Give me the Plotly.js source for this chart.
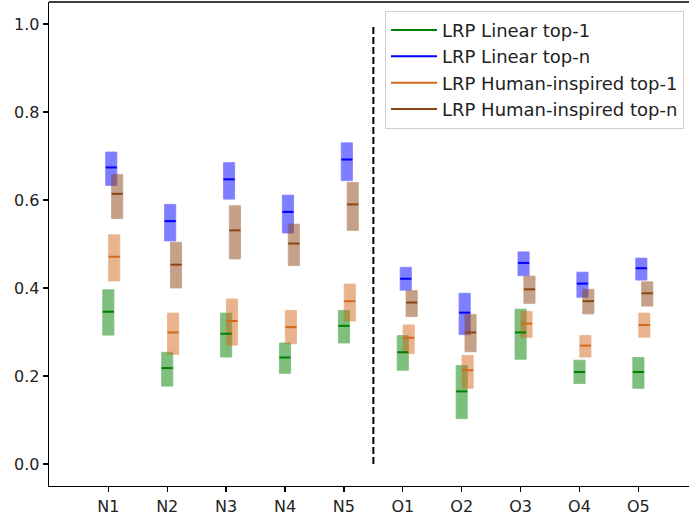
<!DOCTYPE html>
<html>
<head>
<meta charset="utf-8">
<script src="https://cdn.plot.ly/plotly-3.0.1.min.js"></script>
<style>html,body{margin:0;padding:0;background:#fff;}#chart{width:689px;height:519px;}</style>
</head>
<body>
<div id="chart"></div>
<script>
var categories = ['N1','N2','N3','N4','N5','O1','O2','O3','O4','O5'];

var linTop1Low  = [0.293,0.177,0.243,0.206,0.275,0.213,0.103,0.238,0.183,0.172];
var linTop1High = [0.396,0.254,0.343,0.275,0.349,0.292,0.224,0.352,0.236,0.242];
var linTop1Med  = [0.346,0.218,0.296,0.242,0.314,0.254,0.165,0.299,0.209,0.209];

var linTopNLow  = [0.633,0.507,0.602,0.525,0.644,0.395,0.294,0.428,0.379,0.418];
var linTopNHigh = [0.709,0.590,0.685,0.611,0.730,0.447,0.388,0.482,0.436,0.468];
var linTopNMed  = [0.674,0.552,0.647,0.573,0.692,0.421,0.344,0.457,0.410,0.445];

var humTop1Low  = [0.416,0.249,0.270,0.273,0.325,0.251,0.172,0.288,0.243,0.288];
var humTop1High = [0.521,0.343,0.375,0.349,0.409,0.316,0.247,0.347,0.292,0.343];
var humTop1Med  = [0.471,0.299,0.325,0.311,0.370,0.287,0.213,0.319,0.269,0.316];

var humTopNLow  = [0.558,0.400,0.466,0.451,0.531,0.335,0.255,0.365,0.341,0.359];
var humTopNHigh = [0.658,0.504,0.587,0.545,0.640,0.394,0.340,0.427,0.397,0.414];
var humTopNMed  = [0.614,0.453,0.531,0.501,0.590,0.367,0.299,0.397,0.370,0.388];

var seriesNames = ['LRP Linear top-1','LRP Linear top-n','LRP Human-inspired top-1','LRP Human-inspired top-n'];

var series = [
  {name: seriesNames[0], low: linTop1Low, high: linTop1High, med: linTop1Med, color: 'rgb(0,128,0)', offset: 0.0},
  {name: seriesNames[1], low: linTopNLow, high: linTopNHigh, med: linTopNMed, color: 'rgb(0,0,255)', offset: 0.05},
  {name: seriesNames[2], low: humTop1Low, high: humTop1High, med: humTop1Med, color: 'rgb(210,105,30)', offset: 0.10},
  {name: seriesNames[3], low: humTopNLow, high: humTopNHigh, med: humTopNMed, color: 'rgb(139,69,19)', offset: 0.15}
];

var traces = [];
series.forEach(function(s){
  var xs = categories.map(function(c, i){ return i + s.offset; });
  traces.push({
    type: 'bar', x: xs,
    y: s.high.map(function(h, i){ return h - s.low[i]; }),
    base: s.low,
    width: 0.19,
    marker: {color: s.color, opacity: 0.5, line: {width: 0.8, color: s.color}},
    showlegend: false, hoverinfo: 'skip'
  });
});
series.forEach(function(s){
  var xs = categories.map(function(c, i){ return i + s.offset; });
  traces.push({
    type: 'scatter', mode: 'markers', x: xs, y: s.med,
    marker: {symbol: 'line-ew', size: 8, color: s.color, line: {width: 2, color: s.color}},
    showlegend: false, hoverinfo: 'skip'
  });
});
series.forEach(function(s, k){
  traces.push({
    type: 'scatter', mode: 'lines', x: [null], y: [null], name: s.name,
    line: {color: s.color, width: 2}, legendgroup: 'g' + k, showlegend: true
  });
});

var layout = {
  width: 689, height: 519,
  margin: {l: 49, r: 0, t: 2, b: 33, pad: 0},
  paper_bgcolor: '#fff', plot_bgcolor: '#fff',
  barmode: 'overlay',
  font: {family: 'DejaVu Sans', size: 16, color: '#222'},
  xaxis: {
    range: [-1.007, 9.859], tickmode: 'array',
    tickvals: categories.map(function(c, i){ return i; }), ticktext: categories,
    showgrid: false, zeroline: false, showline: true, linecolor: '#000', linewidth: 1.3,
    ticks: 'outside', ticklen: 5, tickwidth: 1.3, tickcolor: '#000',
    tickfont: {size: 16, color: '#222'}
  },
  yaxis: {
    range: [-0.05, 1.05], tickmode: 'array',
    tickvals: [0, 0.2, 0.4, 0.6, 0.8, 1.0], ticktext: ['0.0','0.2','0.4','0.6','0.8','1.0'],
    showgrid: false, zeroline: false, showline: true, linecolor: '#000', linewidth: 1.3,
    ticks: 'outside', ticklen: 5, tickwidth: 1.3, tickcolor: '#000',
    tickfont: {size: 16, color: '#222'}
  },
  shapes: [
    {type: 'line', xref: 'paper', yref: 'paper', x0: 0, x1: 1, y0: 1, y1: 1, line: {color: '#000', width: 1.3}},
    {type: 'line', xref: 'x', yref: 'y', x0: 4.5, x1: 4.5, y0: 0, y1: 1, line: {color: '#000', width: 2, dash: '7px,3px'}}
  ],
  legend: {
    x: 0.525, y: 0.982, xanchor: 'left', yanchor: 'top',
    bgcolor: 'rgba(255,255,255,0.8)', bordercolor: '#d0d0d0', borderwidth: 1,
    font: {size: 18, color: '#222'}, tracegroupgap: 0, itemwidth: 46
  }
};

Plotly.newPlot('chart', traces, layout, {displayModeBar: false, staticPlot: true});
</script>
</body>
</html>
